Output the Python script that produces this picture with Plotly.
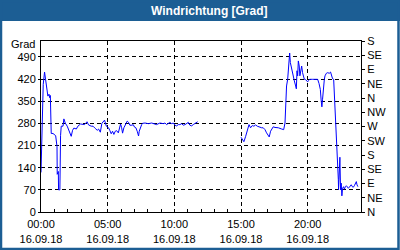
import plotly.graph_objects as go

DAY = "2018-09-16"

times_1 = ["00:00","00:04","00:10","00:16","00:20","00:22","00:27","00:31","00:36","00:39",
           "00:42","00:43","00:46","00:54","01:01","01:06","01:12","01:13","01:18","01:19",
           "01:25","01:26","01:28","01:31","01:39","01:43","01:49","01:58","02:10","02:16",
           "02:22","02:28","02:39","02:46","02:58","03:09","03:16","03:27","03:34","03:46",
           "03:54","04:04","04:13","04:19","04:27","04:34","04:43","04:46","04:54","04:58"]
values_1 = [125,239,403,442,424,419,398,366,372,361,
            368,340,248,248,245,241,207,119,128,70,
            70,218,241,271,271,294,281,271,252,239,
            258,265,262,271,278,276,276,285,275,271,
            271,264,258,262,252,280,287,290,271,270]

times_2 = ["05:04","05:10","05:16","05:22","05:28","05:34","05:40","05:48","05:52","05:58",
           "06:03","06:07","06:13","06:18","06:22","06:28","06:34","06:40","06:49","06:55",
           "07:01","07:07","07:13","07:19","07:22","07:28","07:33","07:37","07:48","08:03",
           "08:18","08:40","08:55","09:10","09:18","09:25","09:33","09:40","09:48","09:55",
           "10:03","10:10","10:18","10:25","10:33","10:40","10:48","10:55","11:03","11:10",
           "11:18","11:25","11:33","11:40","11:45"]
values_2 = [266,257,247,255,245,255,257,250,266,278,
            266,249,266,274,280,287,283,274,274,276,
            268,266,255,240,255,271,276,280,281,279,
            281,276,281,279,281,276,281,283,279,281,
            274,272,276,276,279,274,276,279,283,274,
            272,276,279,283,285]

times_3 = ["15:00","15:06","15:13","15:21","15:28","15:36","15:43","15:51","15:58","16:06",
           "16:13","16:21","16:33","16:40","16:48","16:55","17:03","17:07","17:13","17:18",
           "17:25","17:33","17:48","18:03","18:12","18:18","18:21","18:25","18:30","18:33",
           "18:36","18:39","18:42","18:48","18:54","19:00","19:06","19:09","19:12","19:15",
           "19:18","19:22","19:25","19:30","19:33","19:37","19:42","19:45","19:49","19:55",
           "20:00","20:04","20:09","20:21","20:33","20:45","20:51","20:57","21:01","21:04",
           "21:07","21:10","21:15","21:18","21:24","21:30","21:37","21:43","21:48","21:52",
           "21:57","22:00","22:03","22:07","22:12","22:15","22:18","22:19","22:22","22:25",
           "22:28","22:31","22:34","22:37","22:42","22:45","22:49","22:54","22:58","23:03",
           "23:07","23:12","23:16","23:21","23:25","23:30","23:34","23:39","23:42","23:46"]
values_3 = [236,229,222,239,255,276,266,273,271,275,
            271,268,266,266,260,250,241,237,255,262,
            269,267,266,262,260,281,340,398,419,456,
            488,502,472,451,424,414,398,389,446,430,
            477,461,430,446,461,440,424,419,419,413,
            411,415,419,419,419,419,406,387,350,332,
            356,387,419,430,438,440,438,442,432,421,
            419,377,329,260,218,176,102,70,133,173,
            70,91,51,75,80,72,78,83,80,75,
            78,83,86,80,78,83,91,96,86,80]

gap_time = "13:00"

left_ticks = [0, 70, 140, 210, 280, 350, 420, 490]
right_ticks = [0, 45, 90, 135, 180, 225, 270, 315, 360, 405, 450, 495, 540]
right_labels = ["N", "NE", "E", "SE", "S", "SW", "W", "NW", "N", "NE", "E", "SE", "S"]
x_tick_times = ["00:00", "05:00", "10:00", "15:00", "20:00"]
x_tick_date = "16.09.18"
title_text = "Windrichtung [Grad]"
unit_text = "Grad"

x_all = ([f"{DAY} {t}" for t in times_1] + [f"{DAY} {t}" for t in times_2]
         + [f"{DAY} {gap_time}"] + [f"{DAY} {t}" for t in times_3])
y_all = values_1 + values_2 + [None] + values_3

BLUE_FRAME = "#1c5e94"
FONT = "Liberation Sans"

fig = go.Figure()
fig.add_trace(go.Scatter(x=x_all, y=y_all, mode="lines", connectgaps=False,
                         line=dict(color="#0000ff", width=1), showlegend=False,
                         hoverinfo="skip"))
# invisible trace on right axis
fig.add_trace(go.Scatter(x=[x_all[0]], y=[0], yaxis="y2", mode="markers",
                         marker=dict(opacity=0), showlegend=False, hoverinfo="skip"))

L, R, T, B = 41, 39, 41, 38
W, H = 400, 250
pw, ph = W - L - R, H - T - B

def px(xp):
    return (xp - L) / pw

def py(yp):
    return (H - B - yp) / ph

fig.update_layout(
    width=W, height=H,
    margin=dict(l=L, r=R, t=T, b=B, pad=0, autoexpand=False),
    paper_bgcolor="white", plot_bgcolor="white",
    font=dict(family=FONT, size=11, color="black"),
    xaxis=dict(type="date", range=[f"{DAY} 00:00", "2018-09-17 00:00"],
               tickvals=[f"{DAY} {t}" for t in x_tick_times],
               ticktext=[f"{t}<br>{x_tick_date}" for t in x_tick_times],
               showgrid=True, gridcolor="black", griddash="4px,3px", gridwidth=1,
               showline=True, linecolor="black", linewidth=1, mirror=True,
               ticks="inside", ticklen=3, tickcolor="black",
               ticklabelstandoff=2, automargin=False,
               minor=dict(dtick=3600000, tick0=f"{DAY} 00:00", ticks="inside",
                          ticklen=3, tickcolor="black", showgrid=False),
               zeroline=False, fixedrange=True),
    yaxis=dict(range=[0, 540], tickvals=left_ticks, automargin=False,
               showgrid=True, gridcolor="black", griddash="4px,3px", gridwidth=1,
               showline=True, linecolor="black", linewidth=1, mirror=True,
               ticks="outside", ticklen=2, tickcolor="black",
               zeroline=False, fixedrange=True),
    yaxis2=dict(range=[0, 540], tickvals=right_ticks, ticktext=right_labels,
                overlaying="y", side="right", showgrid=False, zeroline=False,
                showline=True, linecolor="black", linewidth=1, automargin=False,
                ticks="outside", ticklen=3, tickcolor="black", fixedrange=True),
    shapes=[
        dict(type="rect", xref="paper", yref="paper",
             x0=px(0), x1=px(W), y0=py(21), y1=py(0),
             fillcolor=BLUE_FRAME, line=dict(width=0), layer="below"),
        dict(type="rect", xref="paper", yref="paper",
             x0=px(1), x1=px(W - 1.5), y0=py(H - 1), y1=py(1),
             fillcolor="rgba(0,0,0,0)", line=dict(color=BLUE_FRAME, width=2.5)),
    ],
    annotations=[
        dict(text=f"<b>{title_text}</b>", xref="paper", yref="paper",
             x=px(209), y=py(10.5), xanchor="center", yanchor="middle",
             showarrow=False, font=dict(family=FONT, size=12, color="white")),
        dict(text=unit_text, xref="paper", yref="paper",
             x=px(36.5), y=py(44), xanchor="right", yanchor="middle",
             showarrow=False, font=dict(family=FONT, size=11, color="black")),
    ],
)

fig.write_html("out.html")
